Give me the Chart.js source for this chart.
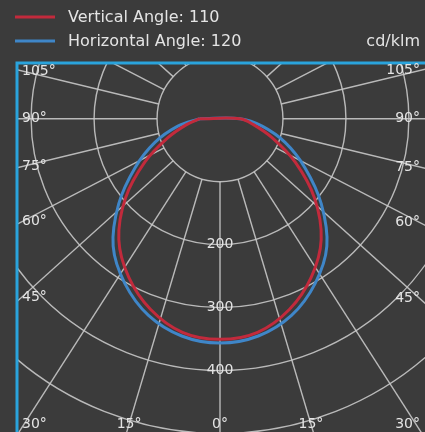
<!DOCTYPE html>
<html>
<head>
<meta charset="utf-8">
<script src="https://cdn.jsdelivr.net/npm/chart.js@4.4.0/dist/chart.umd.min.js"></script>
<style>
  html, body { margin: 0; padding: 0; background: #3b3b3b; }
  #wrap { width: 425px; height: 432px; position: relative; }
</style>
</head>
<body>
<div id="wrap"><canvas id="polar"></canvas></div>
<script>
// gamma angle from nadir (deg) and luminous intensity (cd/klm), same on both sides
const gammaAngles = [0, 10, 20, 30, 40, 50, 60, 70, 80, 90]
const verticalValues = [350, 344, 322, 290, 250, 196, 138, 88, 54, 32]
const horizontalValues = [356, 350, 332, 302, 264, 210, 156, 110, 68, 32]
const seriesLabels = ['Vertical Angle: 110', 'Horizontal Angle: 120']
const unitLabel = 'cd/klm'

// polar grid
const ringValues = [100, 200, 300, 400, 500, 600]
const ringLabelValues = [200, 300, 400]
const spokeAngles = [0, 15, 30, 45, 60, 75, 90, 105, 120, 135, 150, 165, 180,
  195, 210, 225, 240, 255, 270, 285, 300, 315, 330, 345]
const edgeLabelAngles = [-105, -90, -75, -60, -45, -30, -15, 0, 15, 30, 45, 60, 75, 90, 105]

const COLORS = {
  text: '#e4e4e4',
  grid: 'rgba(200, 200, 200, 0.9)',
  frame: '#2aa3dc',
  red: '#c22a3c',
  blue: '#3f86c8'
}
const FONT = '"DejaVu Sans", Verdana, sans-serif'
// the spokes in the original are drawn a little flatter than true radials
const SPOKE_SQUASH = 0.9

// polar (deg from nadir, value) -> data space, nadir pointing down
function toXY (angle, value) {
  const rad = angle * Math.PI / 180
  return { x: value * Math.sin(rad), y: -value * Math.cos(rad) }
}

// left half (negative angles) down to nadir, then right half, closed at the top
function buildCurve (values) {
  const pts = []
  for (let i = gammaAngles.length - 1; i > 0; i--) pts.push(toXY(-gammaAngles[i], values[i]))
  for (let i = 0; i < gammaAngles.length; i++) pts.push(toXY(gammaAngles[i], values[i]))
  pts.push(pts[0])
  return pts
}

// unit direction of a spoke in pixel space (y down)
function spokeDir (angle) {
  const rad = angle * Math.PI / 180
  const dx = Math.sin(rad)
  const dy = Math.cos(rad) * SPOKE_SQUASH
  const n = Math.hypot(dx, dy)
  return { dx: dx / n, dy: dy / n }
}

const polarGrid = {
  id: 'polarGrid',
  beforeDatasetsDraw (chart) {
    const { ctx, chartArea: area, scales: { x, y } } = chart
    const cx = x.getPixelForValue(0)
    const cy = y.getPixelForValue(0)
    const k = x.getPixelForValue(100) - cx
    ctx.save()
    ctx.beginPath()
    ctx.rect(area.left, area.top, area.right - area.left + 2, area.bottom - area.top)
    ctx.clip()
    ctx.strokeStyle = COLORS.grid
    ctx.lineWidth = 1.4
    ringValues.forEach(v => {
      ctx.beginPath()
      ctx.arc(cx, cy, v * k / 100, 0, Math.PI * 2)
      ctx.stroke()
    })
    const inner = ringValues[0] * k / 100
    const outer = ringValues[ringValues.length - 1] * 2 * k / 100
    spokeAngles.forEach(a => {
      const { dx, dy } = spokeDir(a)
      ctx.beginPath()
      ctx.moveTo(cx - dx * inner, cy + dy * inner)
      ctx.lineTo(cx - dx * outer, cy + dy * outer)
      ctx.stroke()
    })
    ctx.restore()
  },
  afterDraw (chart) {
    const { ctx, chartArea: area, scales: { x, y } } = chart
    const cx = x.getPixelForValue(0)
    const cy = y.getPixelForValue(0)
    ctx.save()

    // frame (its right and bottom edges fall just outside the picture)
    ctx.strokeStyle = COLORS.frame
    ctx.lineWidth = 3
    ctx.strokeRect(area.left + 1, area.top + 1, area.right - area.left + 6, area.bottom - area.top + 6)

    ctx.fillStyle = COLORS.text
    ctx.font = '14px ' + FONT
    ctx.textBaseline = 'middle'

    // ring values along the nadir line
    ctx.textAlign = 'center'
    ringLabelValues.forEach(v => {
      ctx.fillText(String(v), cx, y.getPixelForValue(-v))
    })

    // angle labels where the spokes meet the frame
    const L = area.left + 6
    const R = area.right - 4
    const B = area.bottom - 8
    edgeLabelAngles.forEach(a => {
      const d = spokeDir(a)
      const dx = a < 0 ? -Math.abs(d.dx) : Math.abs(d.dx)
      const dy = d.dy
      const tSide = dx === 0 ? Infinity : ((dx < 0 ? L : R) - cx) / dx
      const tBottom = dy > 0 ? (B - cy) / dy : Infinity
      const text = Math.abs(a) + '°'
      if (tSide < tBottom) {
        ctx.textAlign = dx < 0 ? 'left' : 'right'
        ctx.fillText(text, dx < 0 ? L : R, cy + dy * tSide)
      } else {
        const half = ctx.measureText(text).width / 2
        const lx = Math.min(Math.max(cx + dx * tBottom, L + half), R - half)
        ctx.textAlign = 'center'
        ctx.fillText(text, lx, B)
      }
    })

    // legend
    ctx.font = '16px ' + FONT
    ctx.textAlign = 'left'
    chart.data.datasets.forEach((ds, i) => {
      const ly = 17 + i * 24
      ctx.strokeStyle = ds.borderColor
      ctx.lineWidth = 3
      ctx.beginPath()
      ctx.moveTo(15, ly)
      ctx.lineTo(55, ly)
      ctx.stroke()
      ctx.fillText(ds.label, 68, ly + 1)
    })
    ctx.textAlign = 'right'
    ctx.fillText(unitLabel, 420, 42)
    ctx.restore()
  }
}

new Chart(document.getElementById('polar'), {
  type: 'scatter',
  data: {
    datasets: [
      {
        label: seriesLabels[0],
        data: buildCurve(verticalValues),
        borderColor: COLORS.red,
        borderWidth: 3,
        showLine: true,
        pointRadius: 0,
        tension: 0.35
      },
      {
        label: seriesLabels[1],
        data: buildCurve(horizontalValues),
        borderColor: COLORS.blue,
        borderWidth: 3,
        showLine: true,
        pointRadius: 0,
        tension: 0.35
      }
    ]
  },
  options: {
    responsive: true,
    maintainAspectRatio: false,
    animation: false,
    layout: { padding: { left: 16, top: 62, right: 1, bottom: 0 } },
    scales: {
      x: { type: 'linear', display: false, min: -324, max: 324 },
      y: { type: 'linear', display: false, min: -497, max: 90 }
    },
    plugins: {
      legend: { display: false },
      tooltip: { enabled: false }
    }
  },
  plugins: [polarGrid]
})
</script>
</body>
</html>
